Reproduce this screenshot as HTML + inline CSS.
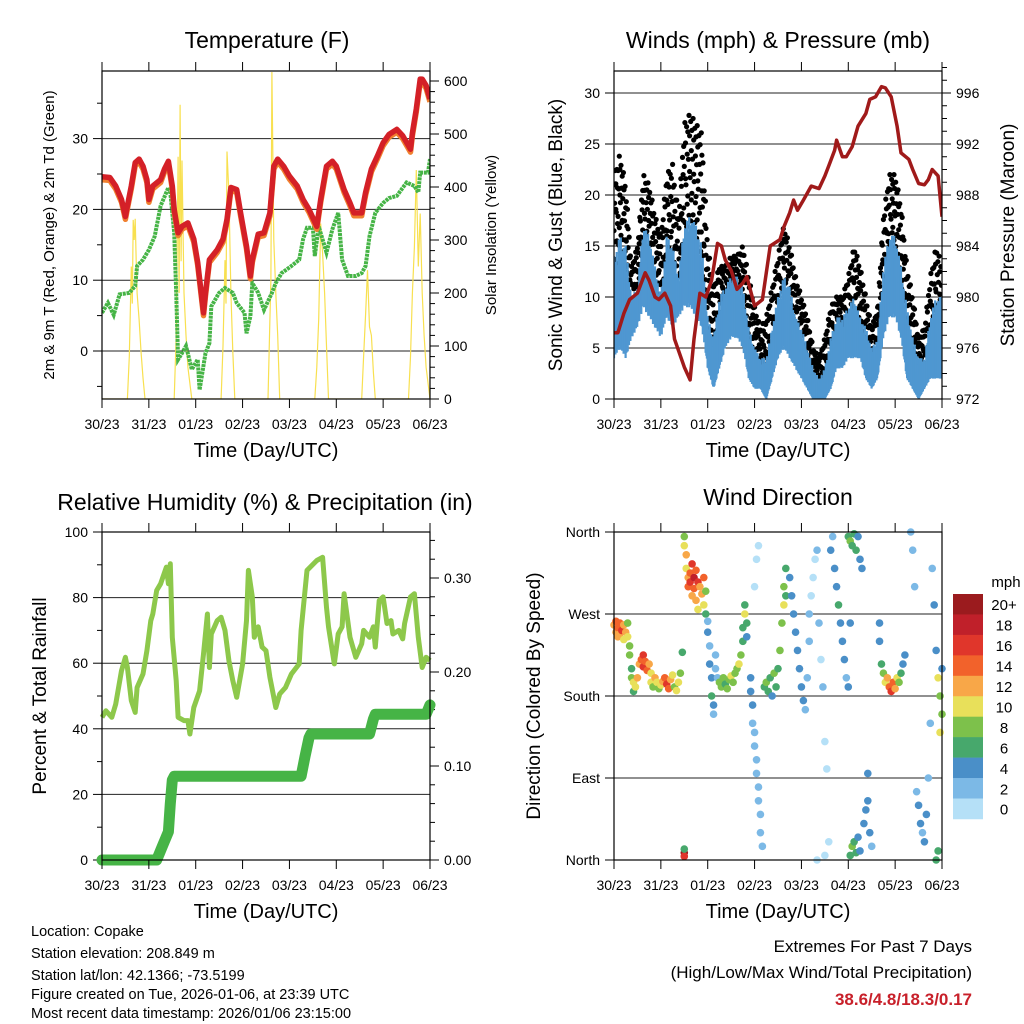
<!DOCTYPE html>
<html><head><meta charset="utf-8"><style>
html,body{margin:0;padding:0;background:#fff}
svg{display:block;font-family:"Liberation Sans",Arial,sans-serif}
</style></head><body>
<svg id="fig" width="1024" height="1024" viewBox="0 0 1024 1024" xmlns="http://www.w3.org/2000/svg">
<rect width="1024" height="1024" fill="#fff"/>
<g id="p1"></g>
<g id="p2"></g>
<g id="p3"></g>
<g id="p4"></g>
<g font-size="14.5" fill="#000">
<text x="31" y="936">Location: Copake</text>
<text x="31" y="958">Station elevation: 208.849 m</text>
<text x="31" y="980">Station lat/lon: 42.1366; -73.5199</text>
<text x="31" y="999">Figure created on Tue, 2026-01-06, at 23:39 UTC</text>
<text x="31" y="1018">Most recent data timestamp: 2026/01/06 23:15:00</text>
</g>
<g text-anchor="end" font-size="17">
<text x="972" y="952">Extremes For Past 7 Days</text>
<text x="972" y="978">(High/Low/Max Wind/Total Precipitation)</text>
<text x="972" y="1005" fill="#c8202a" font-weight="bold">38.6/4.8/18.3/0.17</text>
</g>
</svg>
<script>
// ---------- DATA ----------
const dayLabels=["30/23","31/23","01/23","02/23","03/23","04/23","05/23","06/23"];
const tempHours=[0,4,7,10,12,13,15,17,19,21,23,24,26,30,32,34,36,37,39,41,44,47,49,52,53,55,59,62,64,66,69,71,74,76,77,80,83,86,88,90,93,96,100,103,106,110,112,115,118,120,124,127,129,133,135,138,141,144,147,151,154,158,159,161,163,164,166,168];
const tempValues=[24.6,24.5,23.3,21.4,19,20.5,23.3,26.6,27.1,26.1,24.2,21.4,23.3,24.2,25.7,26.8,23.3,20,16.7,17.6,18.1,15.8,12.5,5.4,8.2,12.9,14.3,15.8,18.6,23.1,22.8,19.5,14.8,10.6,12.9,16.5,16.7,19.5,26.1,27.1,26.1,24.7,23.3,21.4,20,17.6,21.4,26.1,26.8,26.1,22.8,20.9,19.5,19.5,22.4,25.7,27.5,29.4,30.6,31.3,30.4,28.5,30.8,34.2,38.4,38.4,37.5,35.6];
const dewHours=[0,3,6,9,14,17,18,21,24,27,30,34,35,37,38,39,41,43,46,49,50,53,55,56,60,63,67,69,73,74,76,77,80,83,87,89,92,97,101,103,105,108,109,111,115,118,121,123,126,130,133,135,137,140,144,147,151,156,160,162,163,167,168];
const dewValues=[5.4,6.8,5.1,8,8.2,9.2,12,12.9,14.3,16.2,20.5,23.1,22.4,16.7,8.2,-1.2,-0.3,0.7,-2.6,-1.2,-5.5,-0.3,1.1,6.3,8.2,8.9,8.2,6.8,5.4,2.5,4.9,9.6,8.2,5.8,8.2,9.6,11,12,12.9,15.8,17.4,17.4,13.4,17.6,13.9,17.2,19.5,12.9,10.6,10.6,11,12,16.2,19.5,20.9,21.6,21.9,23.8,23.3,22.4,25.2,25.2,27.1];
const solarHours=[0,13,14,15,15.5,16,16.5,17,17.5,18,19,20,21,22,37,38,39,39.5,40,40.5,41,42,43,44,46,61,62,63,63.5,64,65,66,67,68,85,86,86.5,87,88,89,90,91,109,110,111,112,113,114,115,116,133,134,135,136,137,138,139,140,157,158,159,160,161,162,163,164,165,166,168];
const solarValues=[0,0,80,250,180,338,300,340,260,200,150,90,40,0,0,120,457,200,555,260,450,200,120,60,0,0,100,262,180,467,388,200,90,0,0,150,224,617,300,200,120,0,0,60,150,331,275,200,100,0,0,80,160,243,136,120,50,0,0,80,200,287,432,250,350,200,120,60,0];
const windHours=[0,3,6,9,12,15,18,21,24,27,30,33,36,39,42,45,48,51,54,57,60,63,66,69,72,75,78,81,84,87,90,93,96,99,102,105,108,111,114,117,120,123,126,129,132,135,138,141,144,147,150,153,156,159,162,165,168];
const windLow=[4,5,4,6,7,9,8,7,6,8,7,8,9,9,8,7,3,1,3,5,6,6,5,2,1,1,0,2,4,5,4,3,2,1,0,0,0,1,3,3,4,4,4,2,1,2,6,8,8,6,2,1,0,1,2,2,2];
const windHigh=[14,16,15,10,11,17,16,13,10,16,15,12,17,18,17,15,8,6,10,11,12,12,11,7,5,4,4,7,10,12,11,8,7,5,3,2,3,6,8,8,9,10,8,7,5,6,13,16,16,13,9,6,4,4,8,10,10];
const gustLow=[12,14,12,8,10,13,12,10,9,12,11,10,13,14,14,12,6,4,7,9,9,9,9,4,3,2,2,4,7,8,8,5,4,3,1,1,1,3,5,5,6,7,6,4,3,4,10,12,13,10,5,3,2,2,4,5,5];
const gustHigh=[22,24,21,13,15,22,21,18,16,22,23,18,27,28,27,26,15,11,13,13,14,14,15,12,9,7,8,11,14,17,15,12,10,8,5,4,6,9,10,10,12,15,13,10,7,9,18,22,22,19,13,10,6,7,12,15,13];
const presHours=[0,2,5,8,12,16,18,21,23,26,29,31,36,39,41,44,47,50,53,55,57,60,63,66,68,72,76,78,80,85,87,90,92,94,97,101,105,108,110,113,114,117,119,122,125,129,131,134,137,139,142,145,147,151,153,156,159,161,163,166,168];
const presValues=[977.2,977.2,978.7,979.8,980.3,981.9,981.3,980,979.8,980.3,979.3,976.7,974.5,973.5,976.7,980.3,980,981.3,984.2,984,982.9,982.1,980.6,981.1,981.6,979.3,979.8,981.9,984,984.5,985.5,986.6,987.6,986.8,987.6,988.7,988.5,989.5,990.3,991.5,992.3,991,991,991.8,993.4,994.4,995.5,995.7,996.5,996.4,995.7,993.4,991.3,990.8,990,988.9,988.8,989.2,990,989.5,986.3,984.5];
const rhHours=[0,2,5,7,10,12,13,15,17,18,21,23,25,26,28,30,33,34,35,36,38,39,42,44,45,47,50,52,54,55,56,59,61,63,65,67,69,72,74,75,77,78,80,82,84,86,89,91,94,97,101,102,105,110,113,115,116,119,121,123,124,127,130,133,134,137,139,140,142,144,146,148,149,152,154,155,158,160,162,164,166,168];
const rhValues=[43.5,45.5,43.5,47.5,57.7,61.8,58.7,48.6,45,52.6,56.7,63.8,73,75,82.2,84.2,89.3,84.2,90.3,67.9,54.7,43.5,42.5,42.5,38.4,46.5,51.6,62.8,75,58.7,68.9,73,74,70,60.8,54.7,49.6,59.8,73,88.3,80.2,67.9,71.1,64.9,63.8,55.7,46.5,50.6,52.6,56.7,59.8,70,88.3,91.3,92.3,77,71.1,59.8,68.9,71.1,81.2,67.9,61.8,65.9,70,67.9,71.1,64.9,79.1,80.2,72.1,73,68.9,70,67.4,72.1,80.2,81.2,67.9,58.7,61.8,60.8,71.1,67.9];
const precipHours=[0,28,31,34,35,36,37,102,104,106,107,137,139,140,166,168];
const precipValues=[0,0,0.015,0.03,0.06,0.085,0.089,0.089,0.11,0.13,0.134,0.134,0.15,0.155,0.155,0.165];
const dirHours=[0,1,1,2,2,3,3,4,5,5,6,7,7,8,8,9,9,10,10,11,12,13,14,15,15,16,17,18,19,19,20,21,22,23,24,25,26,27,28,29,30,31,32,33,34,35,36,36,37,37,38,38,39,39,40,40,41,41,42,42,43,43,44,45,46,46,47,47,36,36,36,48,48,49,49,50,50,51,51,52,52,53,54,55,56,57,58,59,60,61,62,63,64,65,66,66,67,67,68,68,70,70,71,71,72,72,73,73,74,74,75,75,76,72,73,74,77,78,79,80,81,82,83,84,85,86,87,87,88,88,90,91,92,93,94,95,96,97,98,99,100,100,101,102,103,104,105,106,107,108,109,110,104,108,111,112,113,114,115,116,117,118,119,120,121,120,121,122,123,124,125,126,127,121,122,123,124,125,126,128,129,130,131,132,130,136,137,138,139,140,141,142,143,144,145,146,147,148,149,136,152,153,154,155,156,157,158,159,160,161,162,163,164,165,166,167,168,167,168,166,165];
const dirDegs=[258,262,250,255,245,260,248,252,258,242,250,260,245,235,225,210,200,195,185,190,200,215,220,225,212,218,208,215,205,195,190,200,195,188,192,196,200,193,188,198,203,190,186,195,205,228,355,345,335,320,310,300,315,305,325,290,310,298,318,285,305,275,300,292,280,310,295,270,8,4,12,262,250,235,215,200,180,170,160,210,225,200,195,190,200,193,188,198,202,195,205,210,215,225,240,255,270,280,260,245,200,185,170,150,140,125,110,95,80,65,50,30,15,300,330,345,190,195,185,200,180,205,190,210,230,260,280,300,320,290,310,290,270,250,230,210,190,175,165,200,240,270,290,310,330,340,260,220,190,130,100,20,0,5,340,355,320,300,280,260,240,220,200,190,260,355,350,345,358,340,355,330,320,5,15,20,8,25,10,40,55,65,30,15,95,240,215,205,195,200,190,185,195,188,200,195,205,215,225,260,360,340,300,75,60,40,30,20,50,90,150,320,280,230,200,180,160,140,210,10,0];
const dirSpeeds=[13,14,12,15,13,14,12,16,13,11,12,9,10,8,9,7,9,10,6,11,12,12,15,16,17,14,15,13,11,10,9,12,10,8,10,12,14,16,15,12,10,9,11,10,8,7,9,11,12,10,13,14,15,17,16,12,18,15,14,12,16,11,13,12,10,14,9,7,20,16,7,3,4,3,4,5,6,4,2,2,3,2,8,9,8,7,8,9,10,8,9,8,10,8,6,7,10,6,6,4,4,4,4,3,2,2,2,3,2,3,2,3,2,1,1,1,6,8,7,6,4,8,7,6,8,9,10,9,7,6,5,4,5,4,4,5,4,5,3,3,3,2,1,1,1,2,2,1,2,1,1,1,1,1,4,3,4,5,6,5,4,4,3,4,5,7,8,6,7,6,5,4,4,7,8,6,7,5,4,4,4,4,4,3,4,5,6,8,10,12,14,16,14,12,10,8,7,5,4,4,2,2,2,3,4,4,3,4,4,2,2,3,4,5,10,8,9,10,4,6,7];
const speedBins=["0","2","4","6","8","10","12","14","16","18","20+"];
const speedColors=["#b5e0f7","#7cb9e6","#4a8fc8","#47a86c","#7dc14b","#e8e05a","#f8a748","#f2622b","#e0362b","#c0202a","#9b1b1e"];

// ---------- HELPERS ----------
const NS="http://www.w3.org/2000/svg";
function mk(parent,tag,attrs){const e=document.createElementNS(NS,tag);for(const k in attrs)e.setAttribute(k,attrs[k]);parent.appendChild(e);return e;}
function txt(parent,x,y,s,size,anchor,rot){const t=mk(parent,'text',{x:x,y:y,'font-size':size,'text-anchor':anchor||'middle'});if(rot)t.setAttribute('transform','rotate(-90 '+x+' '+y+')');t.textContent=s;return t;}
function poly(xs,ys,sx,sy){return xs.map((h,i)=>sx(h).toFixed(1)+','+sy(ys[i]).toFixed(1)).join(' ');}
function interp(xs,ys,x){if(x<=xs[0])return ys[0];for(let i=1;i<xs.length;i++){if(x<=xs[i]){const f=(x-xs[i-1])/(xs[i]-xs[i-1]);return ys[i-1]+f*(ys[i]-ys[i-1]);}}return ys[ys.length-1];}

function frame(g,L,R,T,B,xsc){
  dayLabels.forEach((lab,i)=>{const x=xsc(i*24);
    const t1=mk(g,'line',{x1:x,x2:x,y1:B,y2:B+9,stroke:'#000','stroke-width':1});
    
    mk(g,'line',{x1:x,x2:x,y1:T,y2:T-9,stroke:'#000','stroke-width':1});
    const tl=txt(g,x,B+30,lab,14);
    
  });
  const xt=txt(g,(L+R)/2,B+58,'Time (Day/UTC)',20);
  
}
function leftAxis(g,L,R,ticks,labels,minor,sy,grid){
  minor.forEach(v=>mk(g,'line',{x1:L-5,x2:L,y1:sy(v),y2:sy(v),stroke:'#000','stroke-width':1}));
  ticks.forEach((v,i)=>{const y=sy(v);
    mk(g,'line',{x1:L-9,x2:L,y1:y,y2:y,stroke:'#000','stroke-width':1});
    if(grid){const gl=mk(g,'line',{x1:L,x2:R,y1:y,y2:y,stroke:'#222','stroke-width':1});}
    const t=txt(g,L-14,y+5,labels[i],14,'end');
  });
}
function rightAxis(g,R,ticks,labels,minor,sy){
  minor.forEach(v=>mk(g,'line',{x1:R,x2:R+5,y1:sy(v),y2:sy(v),stroke:'#000','stroke-width':1}));
  ticks.forEach((v,i)=>{const y=sy(v);
    mk(g,'line',{x1:R,x2:R+9,y1:y,y2:y,stroke:'#000','stroke-width':1});
    const t=txt(g,R+14,y+5,labels[i],14,'start');
  });
}
function box(g,L,R,T,B){const b=mk(g,'rect',{x:L,y:T,width:R-L,height:B-T,fill:'none',stroke:'#000','stroke-width':1.2});}
function range(a,b,s){const r=[];for(let v=a;v<=b+1e-9;v+=s)r.push(+v.toFixed(4));return r;}

// ---------- PANEL 1 ----------
(function(){
  const g=document.getElementById('p1');const L=102,R=430,T=71,B=399;
  const sx=h=>L+(R-L)*h/168;
  const sy=v=>351-v*7.08;
  const sy2=v=>399-v*0.53;
  const clip=mk(g,'clipPath',{id:'c1'});mk(clip,'rect',{x:L,y:T,width:R-L,height:B-T});
  leftAxis(g,L,R,[0,10,20,30],['0','10','20','30'],[-5,5,15,25,35],sy,true);
  rightAxis(g,R,[0,100,200,300,400,500,600],['0','100','200','300','400','500','600'],range(20,600,20),sy2);
  const d=mk(g,'g',{'clip-path':'url(#c1)'});
  const sol=mk(d,'polyline',{points:poly(solarHours,solarValues,sx,sy2),fill:'none',stroke:'#f8e050','stroke-width':1.2});
  
  const dew=mk(d,'polyline',{points:poly(dewHours,dewValues,sx,sy),fill:'none',stroke:'#46b446','stroke-width':4,'stroke-dasharray':'3 0.8'});
  
  const t9=mk(d,'polyline',{points:poly(tempHours,tempValues.map(v=>v-0.4),sx,sy),fill:'none',stroke:'#f08030','stroke-width':5.5,'stroke-linejoin':'round'});
  
  const t2=mk(d,'polyline',{points:poly(tempHours,tempValues,sx,sy),fill:'none',stroke:'#d42027','stroke-width':5.5,'stroke-linejoin':'round'});
  
  box(g,L,R,T,B);frame(g,L,R,T,B,sx);
  const ti=txt(g,267,48,'Temperature (F)',23);
  const yl=txt(g,54,235,'2m & 9m T (Red, Orange) & 2m Td (Green)',15,'middle',true);
  const yr=txt(g,496,235,'Solar Insolation (Yellow)',15,'middle',true);
})();

// ---------- PANEL 2 ----------
(function(){
  const g=document.getElementById('p2');const L=614,R=942,T=71,B=399;
  const sx=h=>L+(R-L)*h/168;
  const sy=v=>399-v*10.2;
  const sy2=v=>399-(v-972)*12.75;
  const clip=mk(g,'clipPath',{id:'c2'});mk(clip,'rect',{x:L,y:T,width:R-L,height:B-T});
  leftAxis(g,L,R,[0,5,10,15,20,25,30],['0','5','10','15','20','25','30'],[],sy,true);
  rightAxis(g,R,range(972,996,4),range(972,996,4).map(String),range(972,998,1),sy2);
  const d=mk(g,'g',{'clip-path':'url(#c2)'});
  // gust dots: sampled between interpolated low/high with a fixed fraction pattern
  const gustFrac=[0.9,0.45,0.15,0.7,1.0,0.3,0.6,0.85,0.05,0.55,0.25,0.95,0.4,0.75];
  const gd=mk(d,'g',{fill:'#000'});
  
  let k=0;
  for(let h=0;h<=168;h+=0.3){
    const lo=interp(windHours,gustLow,h),hi=interp(windHours,gustHigh,h);
    for(let j=0;j<2;j++){const f=gustFrac[(k++)%gustFrac.length];
      mk(gd,'circle',{cx:sx(h).toFixed(1),cy:sy(lo+f*(hi-lo)).toFixed(1),r:2.6});}
  }
  // sustained wind: jagged vertical strokes
  const windFrac=[1.0,0.7,0.9,0.55,0.95,0.8,0.6,1.0,0.75,0.85];
  const wd=mk(d,'g',{stroke:'#4f97d1','stroke-width':2.2});
  
  let m=0;
  for(let h=0;h<=168;h+=0.35){
    const lo=interp(windHours,windLow,h),hi=interp(windHours,windHigh,h);
    const f=windFrac[(m++)%windFrac.length];
    mk(wd,'line',{x1:sx(h).toFixed(1),x2:sx(h).toFixed(1),y1:sy(lo*(1.3-f*0.3)).toFixed(1),y2:sy(lo+(hi-lo)*f).toFixed(1)});
  }
  const pl=mk(d,'polyline',{points:poly(presHours,presValues,sx,sy2),fill:'none',stroke:'#a01a1a','stroke-width':3.5,'stroke-linejoin':'round'});
  
  box(g,L,R,T,B);frame(g,L,R,T,B,sx);
  const ti=txt(g,778,48,'Winds (mph) & Pressure (mb)',23);
  const yl=txt(g,562,235,'Sonic Wind & Gust (Blue, Black)',19,'middle',true);
  const yr=txt(g,1014,235,'Station Pressure (Maroon)',19,'middle',true);
})();

// ---------- PANEL 3 ----------
(function(){
  const g=document.getElementById('p3');const L=102,R=430,T=532,B=860;
  const sx=h=>L+(R-L)*h/168;
  const sy=v=>860-v*3.28;
  const sy2=v=>860-v*940;
  const clip=mk(g,'clipPath',{id:'c3'});mk(clip,'rect',{x:L-6,y:T,width:R-L+12,height:B-T+6});
  leftAxis(g,L,R,[0,20,40,60,80,100],['0','20','40','60','80','100'],[10,30,50,70,90],sy,true);
  rightAxis(g,R,[0,0.1,0.2,0.3],['0.00','0.10','0.20','0.30'],range(0.02,0.34,0.02),sy2);
  const d=mk(g,'g',{'clip-path':'url(#c3)'});
  const rh=mk(d,'polyline',{points:poly(rhHours,rhValues,sx,sy),fill:'none',stroke:'#8dc84b','stroke-width':5,'stroke-linejoin':'round'});
  
  const pr=mk(d,'polyline',{points:poly(precipHours,precipValues,sx,sy2),fill:'none',stroke:'#46b446','stroke-width':11,'stroke-linejoin':'round','stroke-linecap':'round'});
  
  box(g,L,R,T,B);frame(g,L,R,T,B,sx);
  const ti=txt(g,265,510,'Relative Humidity (%) & Precipitation (in)',23);
  const yl=txt(g,46,696,'Percent & Total Rainfall',19,'middle',true);
})();

// ---------- PANEL 4 ----------
(function(){
  const g=document.getElementById('p4');const L=614,R=942,T=532,B=860;
  const sx=h=>L+(R-L)*h/168;
  const sy=v=>860-v*328/360;
  leftAxis(g,L,R,[0,90,180,270,360],['North','East','South','West','North'],[],sy,true);
  const d=mk(g,'g',{});
  dirHours.forEach((h,i)=>{
    const bi=Math.min(10,Math.floor(dirSpeeds[i]/2));
    const c=mk(d,'circle',{cx:sx(h),cy:sy(dirDegs[i]),r:3.8,fill:speedColors[bi]});
    
    
  });
  box(g,L,R,T,B);frame(g,L,R,T,B,sx);
  const ti=txt(g,778,505,'Wind Direction',23);
  const yl=txt(g,540,696,'Direction (Colored By Speed)',19,'middle',true);
  const cb=mk(g,'g',{});
  const top=594,h=20.45;
  for(let k=0;k<11;k++){const idx=10-k;
    const r=mk(cb,'rect',{x:953,y:top+k*h,width:30,height:h+0.3,fill:speedColors[idx]});
    
    const t=txt(cb,1004,top+k*h+h/2+6,speedBins[idx],15);
    
  }
  const u=txt(cb,1006,587,'mph',15);
})();
</script>
</body></html>
